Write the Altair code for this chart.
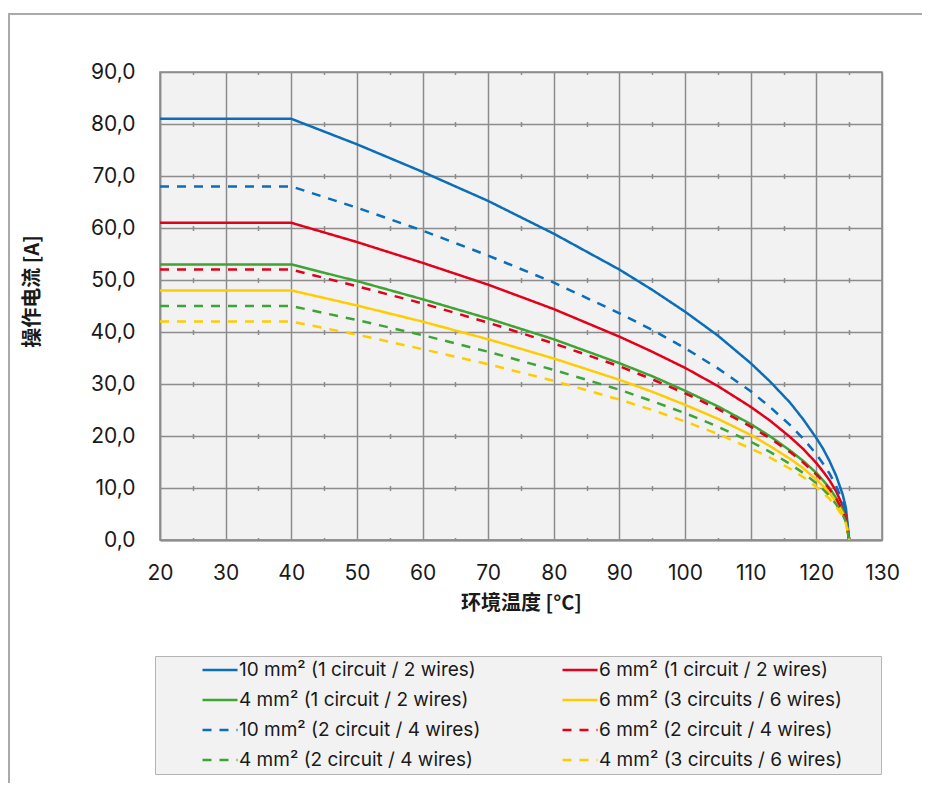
import altair as alt
import pandas as pd

# Ambient temperature [°C] sample points
temps = [20, 40, 50, 60, 70, 80, 90, 95, 100, 105, 110, 113, 116, 118, 120, 121, 122, 123, 124, 124.5, 125]

series_names = [
    "10 mm² (1 circuit / 2 wires)",
    "6 mm² (1 circuit / 2 wires)",
    "4 mm² (1 circuit / 2 wires)",
    "6 mm² (3 circuits / 6 wires)",
    "10 mm² (2 circuit / 4 wires)",
    "6 mm² (2 circuit / 4 wires)",
    "4 mm² (2 circuit / 4 wires)",
    "4 mm² (3 circuits / 6 wires)",
]

# Operating current [A]
cur_10_1c = [81, 81, 76.1, 70.8, 65.2, 58.9, 52.0, 48.1, 43.9, 39.3, 34.0, 30.4, 26.4, 23.2, 19.6, 17.6, 15.2, 12.4, 8.8, 6.2, 0]
cur_6_1c = [61, 61, 57.3, 53.3, 49.1, 44.4, 39.1, 36.2, 33.1, 29.6, 25.6, 22.9, 19.8, 17.5, 14.8, 13.2, 11.5, 9.4, 6.6, 4.7, 0]
cur_4_1c = [53, 53, 49.8, 46.3, 42.6, 38.6, 34.0, 31.5, 28.7, 25.7, 22.3, 19.9, 17.2, 15.2, 12.9, 11.5, 10.0, 8.1, 5.8, 4.1, 0]
cur_6_3c = [48, 48, 45.1, 42.0, 38.6, 34.9, 30.8, 28.5, 26.0, 23.3, 20.2, 18.0, 15.6, 13.8, 11.6, 10.4, 9.0, 7.4, 5.2, 3.7, 0]
cur_10_2c = [68, 68, 63.9, 59.5, 54.7, 49.5, 43.6, 40.4, 36.9, 33.0, 28.6, 25.5, 22.1, 19.5, 16.5, 14.7, 12.8, 10.4, 7.4, 5.2, 0]
cur_6_2c = [52, 52, 48.8, 45.5, 41.8, 37.8, 33.4, 30.9, 28.2, 25.2, 21.8, 19.5, 16.9, 14.9, 12.6, 11.3, 9.8, 8.0, 5.6, 4.0, 0]
cur_4_2c = [45, 45, 42.3, 39.4, 36.2, 32.7, 28.9, 26.7, 24.4, 21.8, 18.9, 16.9, 14.6, 12.9, 10.9, 9.8, 8.5, 6.9, 4.9, 3.5, 0]
cur_4_3c = [42, 42, 39.5, 36.7, 33.8, 30.6, 27.0, 25.0, 22.8, 20.4, 17.6, 15.8, 13.7, 12.1, 10.2, 9.1, 7.9, 6.4, 4.6, 3.2, 0]

all_series = [cur_10_1c, cur_6_1c, cur_4_1c, cur_6_3c, cur_10_2c, cur_6_2c, cur_4_2c, cur_4_3c]

colors = ["#0a6eb8", "#e3001b", "#3ea434", "#ffcc00", "#0a6eb8", "#e3001b", "#3ea434", "#ffcc00"]
dashes = [[1, 0], [1, 0], [1, 0], [1, 0], [9, 8], [9, 8], [9, 8], [9, 8]]

x_ticks = [20, 30, 40, 50, 60, 70, 80, 90, 100, 110, 120, 130]
x_minor = [25, 35, 45, 55, 65, 75, 85, 95, 105, 115, 125]
y_ticks = [0, 10, 20, 30, 40, 50, 60, 70, 80, 90]

rows = []
for name, vals in zip(series_names, all_series):
    for t, v in zip(temps, vals):
        rows.append({"temp": t, "current": v, "series": name})
df = pd.DataFrame(rows)

GRID = "#8c8c8c"
LATIN = "Inter"
CJK = "Noto Sans CJK SC"
TEXT = "#1a1a1a"

x_scale = alt.Scale(domain=[20, 130], nice=False, zero=False)
y_scale = alt.Scale(domain=[0, 90], nice=False)

y_axis = alt.Axis(
    values=y_ticks, grid=True, gridColor=GRID, gridWidth=1.5,
    ticks=False, tickSize=0, domain=True, domainColor=GRID, domainWidth=1.5,
    labelExpr="replace(format(datum.value, '.1f'), '.', ',')",
    labelFont=LATIN, labelFontSize=21, labelColor=TEXT, labelPadding=25,
    title="操作电流 [A]", titleFont=CJK, titleFontSize=20, titleFontWeight="bold",
    titleColor=TEXT, titleX=-128, titleY=219, titleBaseline="middle",
    titleAlign="center")

legend = alt.Legend(
    orient="none", legendX=-5, legendY=584, columns=2, direction="horizontal",
    symbolType="stroke", symbolSize=1225, symbolStrokeWidth=2.5,
    symbolOffset=43, labelOffset=0, clipHeight=22,
    labelFont=LATIN, labelFontSize=19, labelColor=TEXT, labelLimit=500,
    fillColor="#f2f2f2", strokeColor="#b4b4b4", padding=3,
    rowPadding=8, columnPadding=37,
    title=" ", titleOrient="right", titlePadding=36, titleFontSize=12)

# outer border of the figure (decoration)
frame = alt.Chart(pd.DataFrame({"k": [0]})).mark_rect(
    fillOpacity=0, stroke="#aaaaaa", strokeWidth=2
).encode(
    x=alt.value(-151), x2=alt.value(900), y=alt.value(-58), y2=alt.value(800)
)

# minor 5-degree marks drawn as short dashes on each horizontal gridline
minor = alt.Chart(df).mark_point(opacity=0).encode(
    x=alt.X("temp:Q", scale=x_scale, axis=alt.Axis(
        orient="top", values=x_minor, labels=False, ticks=False, domain=False,
        grid=True, gridColor=GRID, gridWidth=1.5, gridDash=[5, 47], gridDashOffset=2.5,
        title=None)),
    y=alt.Y("current:Q", scale=y_scale, axis=y_axis),
)

lines = alt.Chart(df).mark_line(strokeWidth=2.5, interpolate="linear", strokeCap="butt").encode(
    x=alt.X("temp:Q", scale=x_scale, axis=alt.Axis(
        orient="bottom", values=x_ticks, format="d", grid=True, gridColor=GRID, gridWidth=1.5,
        ticks=False, tickSize=0, domain=True, domainColor=GRID, domainWidth=2,
        labelFlush=False,
        labelFont=LATIN, labelFontSize=21, labelColor=TEXT, labelPadding=22,
        title="环境温度 [°C]", titleFont=CJK, titleFontSize=20, titleFontWeight="bold",
        titleColor=TEXT, titleY=63, titleBaseline="middle")),
    y=alt.Y("current:Q", scale=y_scale, axis=y_axis),
    color=alt.Color("series:N", scale=alt.Scale(domain=series_names, range=colors),
                    sort=series_names, legend=legend),
    strokeDash=alt.StrokeDash("series:N", scale=alt.Scale(domain=series_names, range=dashes),
                              sort=series_names, legend=legend),
    detail="series:N",
)

chart = alt.layer(frame, minor, lines).resolve_axis(x="independent").properties(
    width=722, height=468,
    padding={"left": 152, "top": 64, "right": 40, "bottom": 243},
    autosize=alt.AutoSizeParams(type="none"),
    background="white",
).configure_view(
    fill="#f2f2f2", stroke=GRID, strokeWidth=1.5
)

chart.save("out.html", embed_options={"renderer": "svg", "actions": False})
